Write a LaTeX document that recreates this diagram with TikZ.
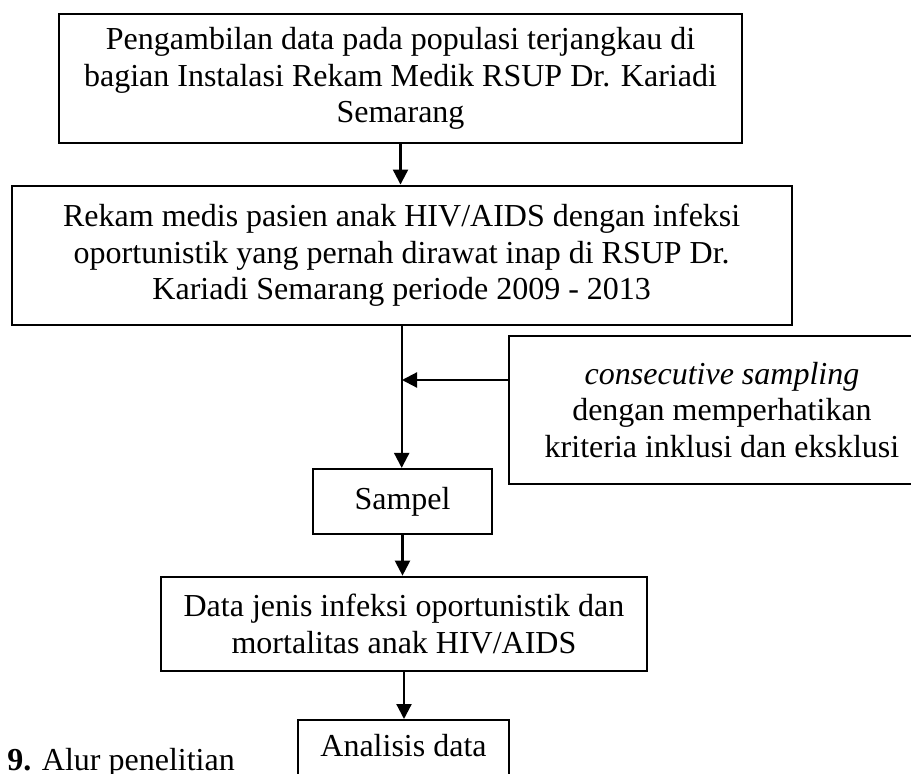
\documentclass[tikz,border=0pt]{standalone}
\usepackage{fontspec}
\setmainfont{Liberation Serif}
\usetikzlibrary{arrows.meta,calc}
\begin{document}
\begin{tikzpicture}[x=1pt,y=-1pt,
  box/.style={draw=black,line width=2.2pt,inner sep=0pt,align=center,
    font=\fontsize{32}{36.5}\selectfont},
  arr/.style={draw=black,line width=2.2pt,-{Triangle[length=15pt,width=15pt]}},
  lbl/.style={inner sep=0pt,font=\fontsize{32}{36.5}\selectfont}]
\useasboundingbox (0,0) rectangle (911,774);
\node[box,minimum width=682.7pt,minimum height=128.7pt] (b1) at (400.5,78.4)
  {Pengambilan data pada populasi terjangkau di\\bagian Instalasi Rekam Medik RSUP Dr. Kariadi\\Semarang};
\node[box,minimum width=780pt,minimum height=139.3pt] (b2) at (401.7,255.3)
  {Rekam medis pasien anak HIV/AIDS dengan infeksi\\oportunistik yang pernah dirawat inap di RSUP Dr.\\Kariadi Semarang periode 2009 - 2013};
\node[box,minimum width=426pt,minimum height=148.3pt] (b3) at (722,409.9)
  {\textit{consecutive sampling}\\dengan memperhatikan\\kriteria inklusi dan eksklusi};
\node[box,minimum width=179pt,minimum height=65pt] (sam) at (402.5,501.5) {Sampel};
\node[box,minimum width=486pt,minimum height=94.5pt] (dat) at (404,624)
  {Data jenis infeksi oportunistik dan\\mortalitas anak HIV/AIDS};
\node[box,minimum width=211pt,minimum height=80pt,anchor=north] (an) at (403.5,719) {};
\node[lbl,anchor=base] (ant) at (403.5,756) {Analisis data};
\node[lbl,anchor=base east] (cap) at (235,770) {\textbf{Gambar 9.} Alur penelitian};
\coordinate (j) at (402,380);
\draw[arr] (b1.south) -- (b1.south |- b2.north);
\draw[arr] (b2.south) -- (b2.south |- sam.north);
\draw[arr] (b3.west |- j) -- (j);
\draw[arr] (sam.south) -- (sam.south |- dat.north);
\draw[arr] (dat.south) -- (dat.south |- an.north);
\end{tikzpicture}
\end{document}
